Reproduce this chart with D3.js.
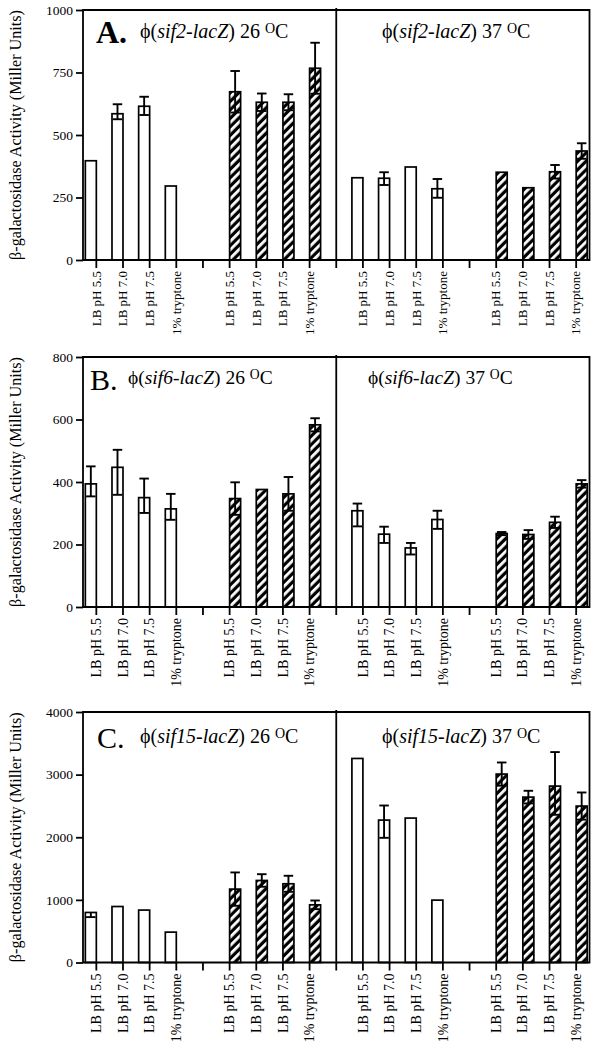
<!DOCTYPE html>
<html>
<head>
<meta charset="utf-8">
<script src="https://cdn.jsdelivr.net/npm/d3@7"></script>
<style>
  body { margin: 0; background: #fff; }
  svg text { font-family: "Liberation Serif", "Times New Roman", Times, serif; fill: #000; }
</style>
</head>
<body>
<script>
// categories
const conditions = ["LB pH 5.5", "LB pH 7.0", "LB pH 7.5", "1% tryptone"];
const temps = ["26", "37"];
const fills = ["open", "hatched"];

// values in order: 26 open x4, 26 hatched x4, 37 open x4, 37 hatched x4
const sif2Values = [397, 585, 615, 296, 673, 631, 631, 767, 329, 327, 372, 285, 351, 289, 353, 436];
const sif2ErrHi  = [0, 38, 38, 0, 83, 35, 32, 102, 0, 24, 0, 39, 0, 0, 27, 31];
const sif2ErrLo  = [0, 22, 35, 0, 83, 35, 32, 102, 0, 27, 0, 36, 0, 0, 27, 31];

const sif6Values = [394, 447, 350, 314, 347, 376, 362, 583, 308, 233, 189, 280, 235, 232, 271, 394];
const sif6ErrHi  = [56, 56, 61, 48, 52, 0, 54, 21, 23, 24, 16, 28, 5, 14, 18, 12];
const sif6ErrLo  = [40, 88, 49, 35, 52, 0, 54, 21, 50, 28, 21, 30, 5, 14, 18, 12];

const sif15Values = [799, 894, 837, 485, 1172, 1310, 1257, 921, 3258, 2274, 2306, 996, 3009, 2641, 2817, 2498];
const sif15ErrHi  = [0, 0, 0, 0, 266, 100, 128, 69, 0, 233, 0, 0, 185, 101, 543, 217];
const sif15ErrLo  = [74, 0, 0, 0, 266, 100, 128, 69, 0, 283, 0, 0, 185, 101, 458, 217];

const aTicks = [0, 250, 500, 750, 1000];
const bTicks = [0, 200, 400, 600, 800];
const cTicks = [0, 1000, 2000, 3000, 4000];

const panels = [
    { letter: "A.", bold: true, strain: "sif2-lacZ", values: sif2Values, hi: sif2ErrHi, lo: sif2ErrLo,
      ticks: aTicks, top: 10, bottom: 260, labelSize: 13,
      letterX: 96, letterY: 43, letterSize: 32, titleX: [140, 382], titleY: 38, titleSize: 20 },
    { letter: "B.", bold: false, strain: "sif6-lacZ", values: sif6Values, hi: sif6ErrHi, lo: sif6ErrLo,
      ticks: bTicks, top: 357, bottom: 607, labelSize: 14,
      letterX: 90, letterY: 390, letterSize: 30, titleX: [128, 368], titleY: 384, titleSize: 19.5 },
    { letter: "C.", bold: false, strain: "sif15-lacZ", values: sif15Values, hi: sif15ErrHi, lo: sif15ErrLo,
      ticks: cTicks, top: 712, bottom: 962.5, labelSize: 14,
      letterX: 97, letterY: 748, letterSize: 30, titleX: [140, 382], titleY: 743, titleSize: 20 }
];

const LEFT = 83, RIGHT = 589.5;
const barW = 11;
const capW = 9.5;
const LINE = 1.8;
const YTITLE_LEN = 250;

const svg = d3.select("body").append("svg")
    .attr("width", 601)
    .attr("height", 1052);

// hatch fill
const pat = svg.append("defs").append("pattern")
    .attr("id", "hatch")
    .attr("patternUnits", "userSpaceOnUse")
    .attr("width", 6)
    .attr("height", 6)
    .attr("patternTransform", "rotate(45)");
pat.append("rect").attr("width", 6).attr("height", 6).attr("fill", "#000");
pat.append("rect").attr("x", 2).attr("width", 2.8).attr("height", 6).attr("fill", "#fff");

// x slots: conditions, a gap tick between open/hatched, a divider between temps
const slots = [];
temps.forEach((t, ti) => {
    fills.forEach((f, fi) => {
        conditions.forEach(c => slots.push({ key: `${t}|${f}|${c}`, label: c }));
        if (fi === 0) slots.push({ key: `${t}|sep`, label: "" });
    });
    if (ti === 0) slots.push({ key: "div", label: "" });
});
const labelOf = new Map(slots.map(s => [s.key, s.label]));

const x = d3.scaleBand()
    .domain(slots.map(s => s.key))
    .range([LEFT, RIGHT])
    .padding(0);
const cx = k => x(k) + x.bandwidth() / 2;

panels.forEach(p => {
    const y = d3.scaleLinear()
        .domain([0, p.ticks[p.ticks.length - 1]])
        .range([p.bottom, p.top]);

    const rows = p.values.map((v, i) => ({
        v: v,
        hi: p.hi[i],
        lo: p.lo[i],
        f: fills[Math.floor(i / 4) % 2],
        key: `${temps[Math.floor(i / 8)]}|${fills[Math.floor(i / 4) % 2]}|${conditions[i % 4]}`
    }));
    rows.forEach(d => {
        d.x0 = d.f === "open" ? cx(d.key) - barW : cx(d.key);
        d.mid = d.x0 + barW / 2;
    });

    const g = svg.append("g");

    // bars
    g.selectAll(".bar")
        .data(rows)
        .join("rect")
        .attr("class", "bar")
        .attr("x", d => d.x0)
        .attr("y", d => y(d.v))
        .attr("width", barW)
        .attr("height", d => y(0) - y(d.v))
        .attr("fill", d => d.f === "open" ? "#fff" : "url(#hatch)")
        .attr("stroke", "#000")
        .attr("stroke-width", 1.7);

    // error bars
    const err = g.selectAll(".err")
        .data(rows.filter(d => d.hi > 0 || d.lo > 0))
        .join("g")
        .attr("class", "err")
        .attr("stroke", "#000")
        .attr("stroke-width", 1.9);
    err.append("line")
        .attr("x1", d => d.mid).attr("x2", d => d.mid)
        .attr("y1", d => y(d.v - d.lo)).attr("y2", d => y(d.v + d.hi));
    err.filter(d => d.hi > 0).append("line")
        .attr("x1", d => d.mid - capW / 2).attr("x2", d => d.mid + capW / 2)
        .attr("y1", d => y(d.v + d.hi)).attr("y2", d => y(d.v + d.hi));
    err.filter(d => d.lo > 0).append("line")
        .attr("x1", d => d.mid - capW / 2).attr("x2", d => d.mid + capW / 2)
        .attr("y1", d => y(d.v - d.lo)).attr("y2", d => y(d.v - d.lo));

    // y axis
    const yAxis = g.append("g")
        .attr("transform", `translate(${LEFT},0)`)
        .call(d3.axisLeft(y).tickValues(p.ticks).tickSize(7).tickPadding(3).tickFormat(d3.format("d")));
    yAxis.select(".domain").remove();
    yAxis.selectAll(".tick line").attr("stroke-width", LINE);
    yAxis.selectAll("text")
        .style("font-size", "13.5px");

    // x axis
    const xAxis = g.append("g")
        .attr("transform", `translate(0,${p.bottom})`)
        .call(d3.axisBottom(x).tickSize(8).tickFormat(k => labelOf.get(k)));
    xAxis.select(".domain").remove();
    xAxis.selectAll(".tick line").attr("stroke-width", LINE);
    xAxis.selectAll("text")
        .attr("transform", "rotate(-90)")
        .attr("x", -11)
        .attr("y", 0)
        .attr("dy", "0.33em")
        .attr("text-anchor", "end")
        .style("font-size", p.labelSize + "px");

    // frame lines
    const frame = g.append("g").attr("stroke", "#000").attr("stroke-width", LINE).attr("fill", "none");
    frame.append("path")
        .attr("d", `M${LEFT},${p.bottom}V${p.top}H${RIGHT}V${p.bottom}H${LEFT}`);
    frame.append("line")
        .attr("x1", cx("div")).attr("x2", cx("div"))
        .attr("y1", p.top - 2).attr("y2", p.bottom);

    // y title, sized to span the axis height
    const yTitle = g.append("text")
        .attr("transform", `translate(21,${(p.top + p.bottom) / 2}) rotate(-90)`)
        .attr("text-anchor", "middle")
        .style("font-size", "15px")
        .text("β-galactosidase Activity (Miller Units)");
    const len = yTitle.node().getComputedTextLength();
    if (len > 0) yTitle.style("font-size", (15 * YTITLE_LEN / len).toFixed(2) + "px");

    // panel letter
    g.append("text")
        .attr("x", p.letterX)
        .attr("y", p.letterY)
        .style("font-size", p.letterSize + "px")
        .style("font-weight", p.bold ? "bold" : "normal")
        .text(p.letter);

    // titles
    temps.forEach((t, ti) => {
        const tt = g.append("text")
            .attr("x", p.titleX[ti])
            .attr("y", p.titleY)
            .style("font-size", p.titleSize + "px");
        tt.append("tspan").text("ϕ(");
        tt.append("tspan").style("font-style", "italic").text(p.strain);
        tt.append("tspan").text(`) ${t} `);
        tt.append("tspan").attr("dy", -5).style("font-size", (p.titleSize * 0.7) + "px").text("O");
        tt.append("tspan").attr("dy", 5).text("C");
    });
});
</script>
</body>
</html>
